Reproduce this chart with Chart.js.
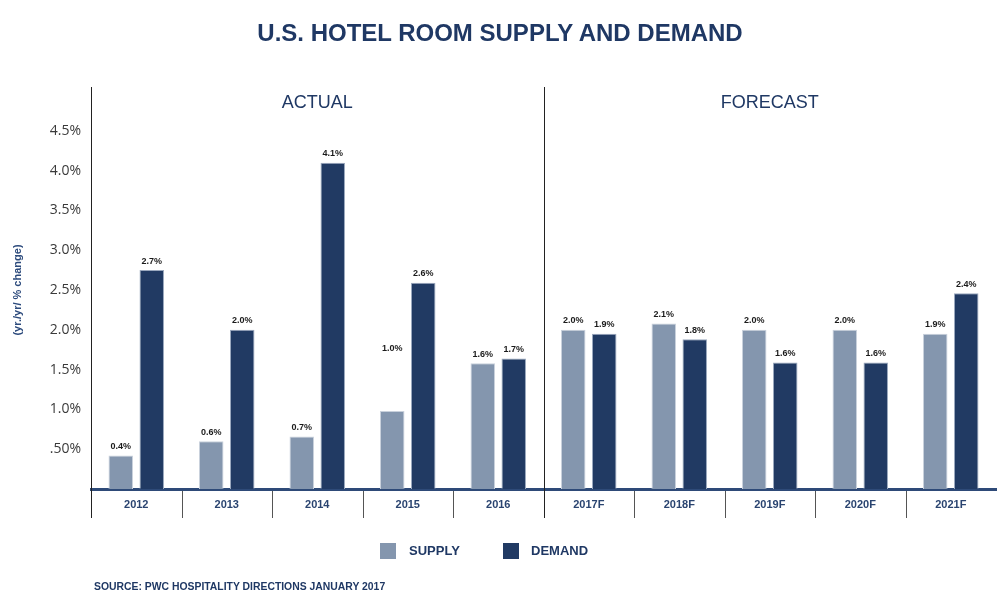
<!DOCTYPE html>
<html>
<head>
<meta charset="utf-8">
<script src="https://cdn.jsdelivr.net/npm/chart.js@4/dist/chart.umd.min.js"></script>
<style>
  body { margin: 0; background: #fff; }
  #wrap { position: relative; width: 1000px; height: 610px; font-family: "Liberation Sans", Arial, sans-serif; }
  #chart { position: absolute; left: 0; top: 0; }
  .title { position: absolute; left: 0; width: 1000px; top: 19px; text-align: center; font-weight: bold; font-size: 24px; color: #1f3864; }
  .legend { position: absolute; top: 543px; font-weight: bold; font-size: 13px; color: #1f3864; line-height: 16px; }
  .legend span.box { position: absolute; top: 0; width: 16px; height: 16px; }
  .legend span.txt { position: absolute; top: 0; white-space: nowrap; }
  .source { position: absolute; left: 94px; top: 581px; font-weight: bold; font-size: 10.4px; color: #1f3864; white-space: nowrap; }
</style>
</head>
<body>
<div id="wrap">
  <canvas id="chart" width="1000" height="610"></canvas>
  <div class="title">U.S. HOTEL ROOM SUPPLY AND DEMAND</div>
  <div class="legend">
    <span class="box" style="left:380px;background:#8496ae"></span>
    <span class="txt" style="left:409px">SUPPLY</span>
    <span class="box" style="left:503px;background:#213a63"></span>
    <span class="txt" style="left:531px">DEMAND</span>
  </div>
  <div class="source">SOURCE: PWC HOSPITALITY DIRECTIONS JANUARY 2017</div>
</div>
<script>
const years = ['2012', '2013', '2014', '2015', '2016', '2017F', '2018F', '2019F', '2020F', '2021F'];
const supply = [0.42, 0.60, 0.66, 0.98, 1.58, 2.00, 2.08, 2.00, 2.00, 1.95];
const demand = [2.75, 2.00, 4.10, 2.59, 1.64, 1.95, 1.88, 1.59, 1.59, 2.46];
const supplyLabels = ['0.4%', '0.6%', '0.7%', '1.0%', '1.6%', '2.0%', '2.1%', '2.0%', '2.0%', '1.9%'];
const demandLabels = ['2.7%', '2.0%', '4.1%', '2.6%', '1.7%', '1.9%', '1.8%', '1.6%', '1.6%', '2.4%'];
const sections = ['ACTUAL', 'FORECAST'];
const forecastStart = 5;

const navy = '#1f3864';

// values printed above each bar
const barLabels = {
    id: 'barLabels',
    afterDatasetsDraw(chart, args, opts) {
        const ctx = chart.ctx;
        ctx.save();
        ctx.font = 'bold 9px "Liberation Sans", Arial, sans-serif';
        ctx.fillStyle = '#1a1a1a';
        ctx.textAlign = 'center';
        ctx.textBaseline = 'middle';
        chart.data.datasets.forEach((ds, di) => {
            chart.getDatasetMeta(di).data.forEach((bar, i) => {
                let lift = 9;
                if (opts.lift && opts.lift.dataset === di && opts.lift.index === i) lift = opts.lift.dy;
                ctx.fillText(ds.valueLabels[i], bar.x, bar.y - lift);
            });
        });
        ctx.restore();
    }
};

// category separators, left rule, actual/forecast divider and section headings
const frame = {
    id: 'frame',
    afterDraw(chart) {
        const ctx = chart.ctx;
        const x = chart.scales.x;
        const area = chart.chartArea;
        const bottom = area.bottom + 29;
        const edge = i => (x.getPixelForValue(i - 1) + x.getPixelForValue(i)) / 2;
        ctx.save();
        ctx.lineWidth = 1;
        ctx.strokeStyle = '#555';
        for (let i = 1; i < years.length; i++) {
            if (i === forecastStart) continue;
            const px = Math.round(edge(i)) + 0.5;
            ctx.beginPath();
            ctx.moveTo(px, area.bottom + 2);
            ctx.lineTo(px, bottom);
            ctx.stroke();
        }
        ctx.strokeStyle = '#222';
        [Math.round(area.left) + 0.5, Math.round(edge(forecastStart)) + 0.5].forEach(px => {
            ctx.beginPath();
            ctx.moveTo(px, 87);
            ctx.lineTo(px, bottom);
            ctx.stroke();
        });
        ctx.font = '18px "Liberation Sans", Arial, sans-serif';
        ctx.fillStyle = navy;
        ctx.textAlign = 'center';
        ctx.textBaseline = 'middle';
        const mid = edge(forecastStart);
        ctx.fillText(sections[0], (area.left + mid) / 2, 103);
        ctx.fillText(sections[1], (mid + area.right) / 2, 103);
        ctx.restore();
    }
};

new Chart(document.getElementById('chart'), {
    type: 'bar',
    data: {
        labels: years,
        datasets: [{
            label: 'SUPPLY',
            data: supply,
            valueLabels: supplyLabels,
            backgroundColor: '#8496ae',
            borderColor: '#c9d1dc',
            borderWidth: 1,
            borderSkipped: 'bottom'
        }, {
            label: 'DEMAND',
            data: demand,
            valueLabels: demandLabels,
            backgroundColor: '#213a63',
            borderColor: '#9aa8be',
            borderWidth: 1,
            borderSkipped: 'bottom'
        }]
    },
    options: {
        responsive: false,
        animation: false,
        categoryPercentage: 0.685,
        barPercentage: 0.79,
        layout: { padding: { top: 91, right: 4, bottom: 92, left: 0 } },
        scales: {
            x: {
                grid: { display: false },
                border: { display: true, color: '#2e4a78', width: 3 },
                ticks: {
                    color: '#2a4470',
                    padding: 1,
                    font: { family: '"Liberation Sans", Arial, sans-serif', size: 11, weight: 'bold' }
                },
                afterFit(scale) { scale.height = 29; }
            },
            y: {
                min: 0,
                max: 5,
                grid: { display: false, drawTicks: false },
                border: { display: false },
                ticks: {
                    stepSize: 0.5,
                    padding: 10,
                    color: '#3a3a3a',
                    font: { family: '"Open Sans", sans-serif', size: 14 },
                    callback: function (value) {
                        if (value === 0 || value === 5) return '';
                        if (value === 0.5) return '.50%';
                        return value.toFixed(1) + '%';
                    }
                },
                title: {
                    display: true,
                    text: '(yr./yr/ % change)',
                    color: '#2c4a7c',
                    padding: { top: 11, bottom: 0 },
                    font: { family: '"Liberation Sans", Arial, sans-serif', size: 11, weight: 'bold' }
                },
                afterFit(scale) { scale.width = 91; }
            }
        },
        plugins: {
            legend: { display: false },
            title: { display: false },
            tooltip: { enabled: false },
            barLabels: { lift: { dataset: 0, index: 3, dy: 62 } }
        }
    },
    plugins: [barLabels, frame]
});
</script>
</body>
</html>
